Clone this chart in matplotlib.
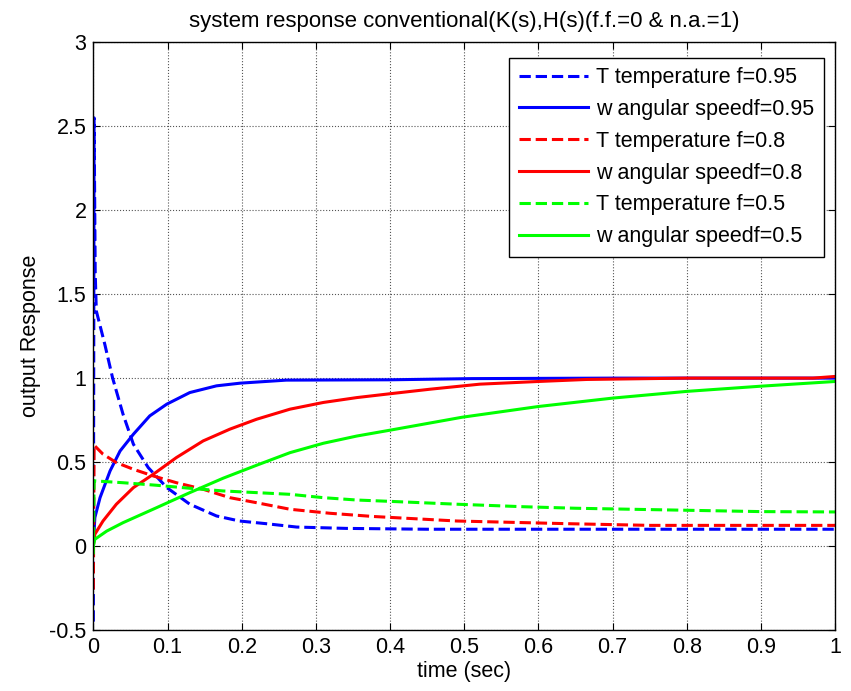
import matplotlib.pyplot as plt

plt.rcParams['font.family'] = ['Liberation Sans', 'DejaVu Sans']

# T temperature curves (dashed)
t_T95 = [0, 0.001, 0.0025, 0.004, 0.0155, 0.026, 0.040, 0.054, 0.074, 0.099, 0.130,
         0.166, 0.197, 0.233, 0.274, 0.341, 0.45, 0.6, 0.8, 1.0]
T95 = [-0.45, 2.55, 1.63, 1.40, 1.20, 1.00, 0.785, 0.606, 0.467, 0.348, 0.249,
       0.179, 0.149, 0.133, 0.113, 0.105, 0.10, 0.10, 0.10, 0.10]

t_T80 = [0, 0.001, 0.002, 0.013, 0.031, 0.054, 0.081, 0.112, 0.148, 0.184, 0.220,
         0.265, 0.319, 0.377, 0.49, 0.64, 0.75, 1.0]
T80 = [-0.26, 0.60, 0.596, 0.547, 0.497, 0.457, 0.417, 0.377, 0.338, 0.288, 0.258,
       0.219, 0.195, 0.176, 0.149, 0.133, 0.123, 0.123]

t_T50 = [0, 0.001, 0.002, 0.04, 0.085, 0.13, 0.175, 0.22, 0.265, 0.31, 0.355,
         0.40, 0.49, 0.58, 0.65, 0.80, 0.90, 1.0]
T50 = [-0.05, 0.39, 0.388, 0.377, 0.362, 0.344, 0.328, 0.318, 0.308, 0.288, 0.274,
       0.266, 0.249, 0.234, 0.225, 0.213, 0.205, 0.203]

# w angular speed curves (solid)
t_w95 = [0, 0.002, 0.009, 0.0225, 0.036, 0.054, 0.076, 0.099, 0.130, 0.166, 0.198,
         0.26, 0.40, 0.51, 0.7, 1.0]
w95 = [0, 0.169, 0.288, 0.447, 0.566, 0.666, 0.775, 0.845, 0.914, 0.954, 0.970,
       0.988, 0.99, 0.997, 1.0, 1.0]

t_w80 = [0, 0.002, 0.013, 0.031, 0.054, 0.081, 0.112, 0.148, 0.184, 0.220, 0.265,
         0.310, 0.355, 0.40, 0.454, 0.521, 0.60, 0.665, 0.8, 0.97, 1.0]
w80 = [0, 0.07, 0.149, 0.249, 0.348, 0.428, 0.527, 0.626, 0.696, 0.755, 0.815,
       0.855, 0.884, 0.907, 0.934, 0.964, 0.98, 0.992, 1.0, 1.0, 1.01]

t_w50 = [0, 0.002, 0.018, 0.04, 0.085, 0.13, 0.175, 0.22, 0.265, 0.31, 0.355,
         0.40, 0.497, 0.6, 0.7, 0.8, 0.9, 1.0]
w50 = [0, 0.04, 0.089, 0.139, 0.228, 0.318, 0.404, 0.481, 0.556, 0.612, 0.655,
       0.69, 0.767, 0.831, 0.881, 0.921, 0.952, 0.98]

series = [
    (t_T95, T95, '#0000FF', '--', 'T temperature f=0.95'),
    (t_w95, w95, '#0000FF', '-', 'w angular speedf=0.95'),
    (t_T80, T80, '#FF0000', '--', 'T temperature f=0.8'),
    (t_w80, w80, '#FF0000', '-', 'w angular speedf=0.8'),
    (t_T50, T50, '#00FF00', '--', 'T temperature f=0.5'),
    (t_w50, w50, '#00FF00', '-', 'w angular speedf=0.5'),
]

fig = plt.figure(figsize=(8.51, 6.91), dpi=100)
ax = fig.add_axes([0.1097, 0.0883, 0.8718, 0.8505])

for t, y, c, ls, lab in series:
    ax.plot(t, y, color=c, linestyle=ls, linewidth=2.2, label=lab)

ax.set_xlim(0, 1)
ax.set_ylim(-0.5, 3)
ax.set_xticks([i / 10 for i in range(11)])
ax.set_xticklabels(['0', '0.1', '0.2', '0.3', '0.4', '0.5', '0.6', '0.7', '0.8', '0.9', '1'])
ax.set_yticks([-0.5, 0, 0.5, 1, 1.5, 2, 2.5, 3])
ax.set_yticklabels(['-0.5', '0', '0.5', '1', '1.5', '2', '2.5', '3'])
ax.grid(True, linestyle=':', color='#555555', linewidth=0.8)
ax.tick_params(direction='in', top=True, right=True, labelsize=15.5, length=5, pad=5)
for s in ax.spines.values():
    s.set_linewidth(1.0)

ax.set_xlabel('time (sec)', fontsize=15.5, labelpad=2)
ax.set_ylabel('output Response', fontsize=15.5, labelpad=6)
ax.set_title('system response conventional(K(s),H(s)(f.f.=0 & n.a.=1)', fontsize=16, pad=11)

leg = ax.legend(loc='upper right', fontsize=15.5, fancybox=False, framealpha=1,
                edgecolor='black', borderpad=0.45, handlelength=3.2, handletextpad=0.4,
                labelspacing=0.5, borderaxespad=0, bbox_to_anchor=(0.985, 0.974))
leg.get_frame().set_linewidth(1.0)

plt.savefig('out.png', dpi=100, facecolor='white')
